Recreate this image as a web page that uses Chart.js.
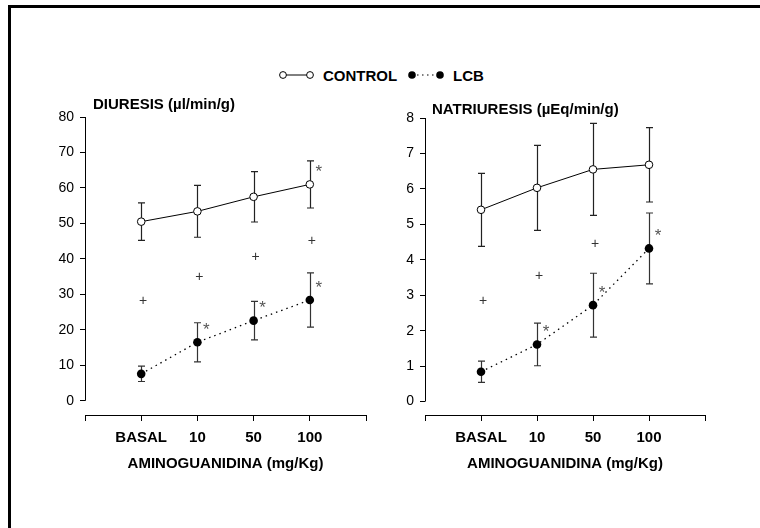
<!DOCTYPE html>
<html>
<head>
<meta charset="utf-8">
<script src="https://cdn.jsdelivr.net/npm/chart.js@4.4.1/dist/chart.umd.min.js"></script>
<style>
  html, body { margin: 0; padding: 0; background: #fff; }
  body { width: 760px; height: 528px; position: relative; overflow: hidden;
         font-family: "Liberation Sans", Arial, sans-serif; }
  #frame { position: absolute; left: 8px; top: 5px; width: 900px; height: 700px;
           border-top: 3px solid #000; border-left: 3px solid #000; }
  canvas.panel { position: absolute; top: 60px; width: 380px; height: 420px; }
  .key { position: absolute; font: bold 15px "Liberation Sans", Arial, sans-serif;
         line-height: 17px; color: #000; white-space: nowrap; }
  .sym { position: absolute; }
</style>
</head>
<body>
<div id="frame"></div>

<svg class="sym" style="left:277px;top:70px" width="40" height="10">
  <line x1="6" y1="5" x2="33" y2="5" stroke="#000" stroke-width="1"/>
  <circle cx="6" cy="5" r="3.4" fill="#fff" stroke="#000" stroke-width="1"/>
  <circle cx="33" cy="5" r="3.4" fill="#fff" stroke="#000" stroke-width="1"/>
</svg>
<div class="key" style="left:323px;top:66.5px">CONTROL</div>
<svg class="sym" style="left:406px;top:70px" width="40" height="10">
  <line x1="6" y1="5" x2="34" y2="5" stroke="#000" stroke-width="1.2" stroke-dasharray="1.5 3.5"/>
  <circle cx="6" cy="5" r="3.8" fill="#000"/>
  <circle cx="34" cy="5" r="3.8" fill="#000"/>
</svg>
<div class="key" style="left:453px;top:66.5px">LCB</div>

<canvas id="diuresis" class="panel" width="380" height="420" style="left:0px"></canvas>
<canvas id="natriuresis" class="panel" width="380" height="420" style="left:380px"></canvas>

<script>
// Dose groups on the x axis
const categories = ['BASAL', '10', '50', '100'];

// Diuresis (µl/min/g): mean and error half-width per group
const diuresisControl    = [50.5, 53.4, 57.5, 61.0];
const diuresisControlErr = [5.3, 7.3, 7.1, 6.65];
const diuresisLcb        = [7.6, 16.5, 22.6, 28.4];
const diuresisLcbErr     = [2.15, 5.5, 5.45, 7.65];
const diuresisControlSig = [false, false, false, true];
const diuresisLcbSig     = [false, true, true, true];
const diuresisCross      = [28.2, 35.0, 40.4, 45.1];
const diuresisTicks      = [0, 10, 20, 30, 40, 50, 60, 70, 80];

// Natriuresis (µEq/min/g)
const natriuresisControl    = [5.41, 6.03, 6.55, 6.68];
const natriuresisControlErr = [1.03, 1.2, 1.3, 1.05];
const natriuresisLcb        = [0.84, 1.61, 2.72, 4.32];
const natriuresisLcbErr     = [0.3, 0.6, 0.9, 1.0];
const natriuresisControlSig = [false, false, false, false];
const natriuresisLcbSig     = [false, true, true, true];
const natriuresisCross      = [2.84, 3.55, 4.43, null];
const natriuresisTicks      = [0, 1, 2, 3, 4, 5, 6, 7, 8];

const FONT = '"Liberation Sans", Arial, sans-serif';
const xTicks = [0, 1, 2, 3, 4, 5];

// Error bars, significance marks, panel heading and the short y axis line
const panelDecor = {
  id: 'panelDecor',
  beforeDatasetsDraw(chart, args, opts) {
    const ctx = chart.ctx, xs = chart.scales.x, ys = chart.scales.y;
    ctx.save();
    chart.data.datasets.forEach(ds => {
      ctx.strokeStyle = ds.errColor;
      ctx.lineWidth = 1.2;
      ds.data.forEach((p, i) => {
        const e = ds.err[i];
        const x = Math.round(xs.getPixelForValue(p.x)) + 0.5;
        const y1 = ys.getPixelForValue(p.y + e);
        const y2 = ys.getPixelForValue(p.y - e);
        ctx.beginPath();
        ctx.moveTo(x, y1); ctx.lineTo(x, y2);
        ctx.moveTo(x - 3.5, y1); ctx.lineTo(x + 3.5, y1);
        ctx.moveTo(x - 3.5, y2); ctx.lineTo(x + 3.5, y2);
        ctx.stroke();
      });
    });
    ctx.restore();
  },
  afterDraw(chart, args, opts) {
    const ctx = chart.ctx, xs = chart.scales.x, ys = chart.scales.y;
    const area = chart.chartArea;
    ctx.save();
    // y axis line covers only the labelled range
    const ax = Math.floor(area.left) + 0.5;
    ctx.strokeStyle = '#000';
    ctx.lineWidth = 1;
    ctx.beginPath();
    ctx.moveTo(ax, ys.getPixelForValue(opts.ticks[0]));
    ctx.lineTo(ax, ys.getPixelForValue(opts.ticks[opts.ticks.length - 1]));
    ctx.stroke();

    // heading
    ctx.fillStyle = '#000';
    ctx.font = 'bold 15px ' + FONT;
    ctx.textBaseline = 'middle';
    ctx.textAlign = 'left';
    ctx.fillText(opts.title, area.left + opts.titleDx, area.top - opts.titleDy);

    // asterisks next to points that differ from basal
    ctx.fillStyle = '#555';
    ctx.font = '17px ' + FONT;
    ctx.textAlign = 'center';
    chart.data.datasets.forEach(ds => {
      ds.data.forEach((p, i) => {
        if (!ds.sig[i]) return;
        const x = xs.getPixelForValue(p.x) + 9;
        const y = ys.getPixelForValue(p.y) - 12;
        ctx.fillText('*', x, y);
      });
    });

    // crosses between the two groups
    ctx.fillStyle = '#333';
    ctx.font = '14px ' + FONT;
    opts.cross.forEach((v, i) => {
      if (v === null) return;
      ctx.fillText('+', xs.getPixelForValue(i + 1) + 2, ys.getPixelForValue(v));
    });
    ctx.restore();
  }
};

function makePanel(id, cfg) {
  const pts = arr => arr.map((v, i) => ({ x: i + 1, y: v }));
  return new Chart(document.getElementById(id), {
    type: 'line',
    data: {
      datasets: [
        {
          label: 'CONTROL',
          data: pts(cfg.control),
          err: cfg.controlErr,
          sig: cfg.controlSig,
          errColor: '#222',
          borderColor: '#000',
          borderWidth: 1,
          pointRadius: 3.8,
          pointBackgroundColor: '#fff',
          pointBorderColor: '#000',
          pointBorderWidth: 1,
          tension: 0
        },
        {
          label: 'LCB',
          data: pts(cfg.lcb),
          err: cfg.lcbErr,
          sig: cfg.lcbSig,
          errColor: '#333',
          borderColor: '#000',
          borderWidth: 1.3,
          borderDash: [1.5, 4],
          pointRadius: 4.3,
          pointBackgroundColor: '#000',
          pointBorderColor: '#000',
          pointBorderWidth: 0,
          tension: 0
        }
      ]
    },
    options: {
      responsive: false,
      animation: false,
      devicePixelRatio: 1,
      layout: { padding: { left: 0, right: cfg.padRight, top: cfg.padTop, bottom: 0 } },
      plugins: {
        legend: { display: false },
        tooltip: { enabled: false },
        panelDecor: {
          title: cfg.title, titleDx: cfg.titleDx, titleDy: cfg.titleDy,
          ticks: cfg.ticks, cross: cfg.cross
        }
      },
      scales: {
        x: {
          type: 'linear', min: 0, max: 5,
          afterBuildTicks: s => { s.ticks = xTicks.map(v => ({ value: v })); },
          afterFit: s => { s.height = 65; },
          grid: { drawOnChartArea: false, drawTicks: true, tickLength: 6, color: '#000', lineWidth: 1 },
          border: { display: true, color: '#000', width: 1 },
          ticks: {
            autoSkip: false, maxRotation: 0, color: '#000', padding: 8,
            font: { family: FONT, size: 15, weight: 'bold' },
            callback: v => (v >= 1 && v <= 4) ? categories[v - 1] : ''
          },
          title: {
            display: true, text: 'AMINOGUANIDINA (mg/Kg)', color: '#000',
            font: { family: FONT, size: 15, weight: 'bold' },
            padding: { top: 0, bottom: 7 }
          }
        },
        y: {
          type: 'linear', min: cfg.yMin, max: cfg.yMax,
          afterBuildTicks: s => { s.ticks = cfg.ticks.map(v => ({ value: v })); },
          afterFit: s => { s.width = cfg.yWidth; },
          grid: { drawOnChartArea: false, drawTicks: true, tickLength: 5, color: '#000', lineWidth: 1 },
          border: { display: false },
          ticks: {
            color: '#000', padding: 6,
            font: { family: FONT, size: 14 },
            callback: v => String(v)
          }
        }
      }
    },
    plugins: [panelDecor]
  });
}

makePanel('diuresis', {
  control: diuresisControl, controlErr: diuresisControlErr, controlSig: diuresisControlSig,
  lcb: diuresisLcb, lcbErr: diuresisLcbErr, lcbSig: diuresisLcbSig,
  cross: diuresisCross, ticks: diuresisTicks,
  yMin: -4, yMax: 80, yWidth: 85, padRight: 14, padTop: 57,
  title: 'DIURESIS (µl/min/g)', titleDx: 8, titleDy: 12
});

makePanel('natriuresis', {
  control: natriuresisControl, controlErr: natriuresisControlErr, controlSig: natriuresisControlSig,
  lcb: natriuresisLcb, lcbErr: natriuresisLcbErr, lcbSig: natriuresisLcbSig,
  cross: natriuresisCross, ticks: natriuresisTicks,
  yMin: -0.38, yMax: 8, yWidth: 45, padRight: 55, padTop: 58,
  title: 'NATRIURESIS (µEq/min/g)', titleDx: 7, titleDy: 8
});
</script>
</body>
</html>
